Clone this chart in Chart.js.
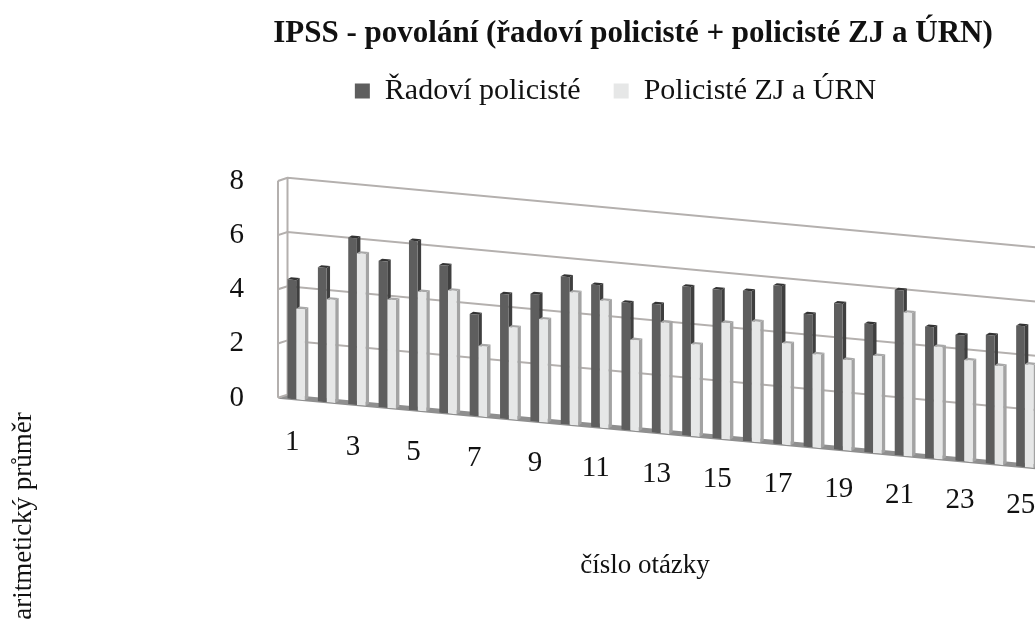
<!DOCTYPE html>
<html>
<head>
<meta charset="utf-8">
<title>IPSS - povolání</title>
<script src="https://cdn.jsdelivr.net/npm/chart.js@4"></script>
<style>
html, body { margin: 0; padding: 0; background: #fff; overflow: hidden; }
canvas { display: block; }
</style>
</head>
<body>
<canvas id="chart1" width="1100" height="622"></canvas>
<script>
const categories = ['1','2','3','4','5','6','7','8','9','10','11','12','13','14','15','16','17','18','19','20','21','22','23','24','25'];
const radovi = [4.4, 4.95, 6.15, 5.4, 6.25, 5.45, 3.75, 4.6, 4.7, 5.45, 5.25, 4.7, 4.75, 5.5, 5.5, 5.55, 5.85, 4.9, 5.4, 4.75, 6.1, 4.85, 4.65, 4.75, 5.2];
const zj = [3.35, 3.8, 5.6, 4.0, 4.4, 4.55, 2.6, 3.4, 3.8, 4.9, 4.7, 3.35, 4.1, 3.4, 4.3, 4.45, 3.75, 3.45, 3.35, 3.6, 5.3, 4.15, 3.75, 3.65, 3.8];
const yTicks = [0, 2, 4, 6, 8];

const chartTitle = 'IPSS - povolání (řadoví policisté + policisté ZJ a ÚRN)';
const xTitle = 'číslo otázky';
const yTitle = 'aritmetický průměr';

const SKEW = 0.093;          // the whole plot falls to the right
const LABEL_SKEW = 0.087;    // tick labels fall a little less
const DEPTH_X = 3.5;
const DEPTH_Y = 2.4;
const serif = '"Liberation Serif", serif';

// sides of the bars, light sides are a separate colour
const sideColors = ['#3f3f3f', '#a3a3a3'];
const capColors = ['#333333', '#a8a8a8'];

const fake3d = {
    id: 'fake3d',
    afterLayout(chart) {
        // title and legend are not centred on the same point
        chart.titleBlock.left = 273; chart.titleBlock.right = 993;
        chart.titleBlock.top = 1;
        chart.legend.left = 260; chart.legend.right = 971;
        chart.legend.top = 43;
    },
    beforeDatasetsDraw(chart) {
        const ctx = chart.ctx;
        const x = chart.scales.x, y = chart.scales.y;
        const x0 = x.left;
        ctx.save();
        ctx.transform(1, SKEW, 0, 1, 0, -SKEW * x0);

        const front = x0 - 3, back = x0 + 6.5, backDy = -4;
        const zero = y.getPixelForValue(0);
        // floor
        ctx.fillStyle = '#8f8f8f';
        ctx.beginPath();
        ctx.moveTo(front, zero + 1);
        ctx.lineTo(back, zero + backDy);
        ctx.lineTo(1200, zero + backDy);
        ctx.lineTo(1200, zero + 1);
        ctx.closePath();
        ctx.fill();

        // back wall grid
        ctx.strokeStyle = '#b4b0ae';
        ctx.lineWidth = 2;
        yTicks.forEach(v => {
            const p = y.getPixelForValue(v);
            ctx.beginPath();
            ctx.moveTo(front, p);
            ctx.lineTo(back, p + backDy);
            if (v > 0) ctx.lineTo(1200, p + backDy);
            ctx.stroke();
        });
        [[front, 0], [back, backDy]].forEach(([px, dy]) => {
            ctx.beginPath();
            ctx.moveTo(px, y.getPixelForValue(0) + dy);
            ctx.lineTo(px, y.getPixelForValue(8) + dy);
            ctx.stroke();
        });

        // side and top faces go under both series
        chart.data.datasets.forEach((ds, i) => {
            chart.getDatasetMeta(i).data.forEach(el => {
                const right = el.x + el.width / 2, left = el.x - el.width / 2;
                ctx.fillStyle = sideColors[i];
                ctx.beginPath();
                ctx.moveTo(right, el.y);
                ctx.lineTo(right + DEPTH_X, el.y - DEPTH_Y);
                ctx.lineTo(right + DEPTH_X, el.base - DEPTH_Y);
                ctx.lineTo(right, el.base);
                ctx.closePath();
                ctx.fill();
                ctx.fillStyle = capColors[i];
                ctx.beginPath();
                ctx.moveTo(left, el.y);
                ctx.lineTo(left + DEPTH_X, el.y - DEPTH_Y);
                ctx.lineTo(right + DEPTH_X, el.y - DEPTH_Y);
                ctx.lineTo(right, el.y);
                ctx.closePath();
                ctx.fill();
            });
        });
    },
    afterDatasetsDraw(chart) {
        chart.ctx.restore();
    },
    afterDraw(chart) {
        const ctx = chart.ctx;
        const x = chart.scales.x, y = chart.scales.y;
        const zero = y.getPixelForValue(0);
        ctx.save();
        ctx.fillStyle = '#111';
        ctx.textAlign = 'center';
        ctx.textBaseline = 'middle';
        ctx.font = '29px ' + serif;
        x.ticks.forEach((t, i) => {
            if (!t.label) return;
            const px = x.getPixelForTick(i);
            ctx.fillText(t.label, px - 4, zero + LABEL_SKEW * (px - x.left) + 43);
        });
        ctx.font = '27px ' + serif;
        ctx.fillText(xTitle, 645, 566);
        ctx.translate(24, 516);
        ctx.rotate(-Math.PI / 2);
        ctx.fillText(yTitle, 0, 0);
        ctx.restore();
    }
};

const chart1 = new Chart(document.getElementById('chart1').getContext('2d'), {
    type: 'bar',
    data: {
        labels: categories,
        datasets: [
            { label: 'Řadoví policisté', data: radovi, backgroundColor: '#5e5e5e', borderWidth: 0 },
            { label: 'Policisté ZJ a ÚRN', data: zj, backgroundColor: '#e6e7e7', borderWidth: 0 }
        ]
    },
    options: {
        responsive: false,
        animation: false,
        layout: { padding: { left: 206, right: 60, top: 43, bottom: 216 } },
        datasets: { bar: { categoryPercentage: 0.57, barPercentage: 1 } },
        scales: {
            x: {
                grid: { display: false },
                border: { display: false },
                ticks: {
                    display: false,
                    autoSkip: false,
                    callback(v, i) { return i % 2 === 0 ? categories[i] : ''; }
                }
            },
            y: {
                min: 0,
                max: 8,
                afterFit(s) { s.width = 75; },
                afterBuildTicks(s) { s.ticks = yTicks.map(v => ({ value: v })); },
                grid: { display: false },
                border: { display: false },
                ticks: { color: '#111', padding: 29, font: { family: serif, size: 29 } }
            }
        },
        plugins: {
            title: {
                display: true,
                text: chartTitle,
                color: '#111',
                font: { family: serif, size: 31, weight: 'bold', lineHeight: 1.2 },
                padding: { top: 14, bottom: 14 }
            },
            legend: {
                display: true,
                labels: {
                    color: '#111',
                    boxWidth: 15,
                    boxHeight: 15,
                    padding: 33,
                    font: { family: serif, size: 30 }
                }
            },
            tooltip: { enabled: false }
        }
    },
    plugins: [fake3d]
});
</script>
</body>
</html>
